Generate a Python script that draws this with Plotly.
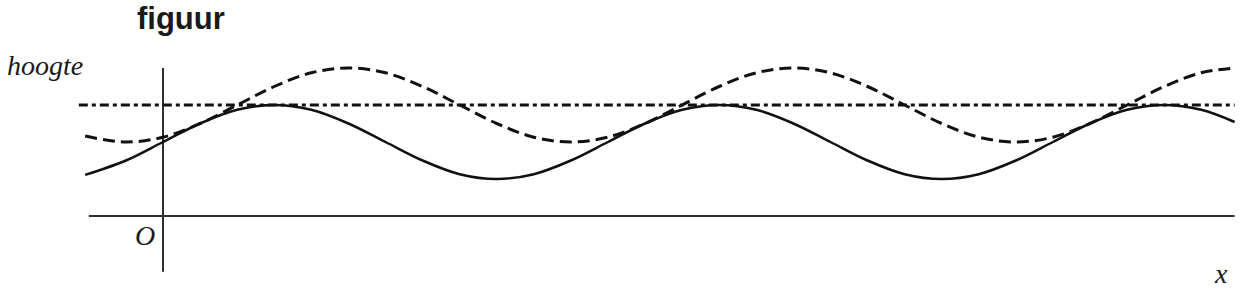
import plotly.graph_objects as go

# Values (x in axis units, height in axis units)
x_pts = [-2.1, -1, 0, 1, 2, 3, 4, 5, 6, 7, 8, 9, 10, 11, 12, 13, 14, 15,
         16, 17, 18, 19, 20, 21, 22, 23, 24, 25, 26, 27, 28, 28.9]
solid_h = [1.11, 1.5, 2.0, 2.5, 2.87, 3.0, 2.87, 2.5, 2.0, 1.5, 1.13, 1.0,
           1.13, 1.5, 2.0, 2.5, 2.87, 3.0, 2.87, 2.5, 2.0, 1.5, 1.13, 1.0,
           1.13, 1.5, 2.0, 2.5, 2.87, 3.0, 2.87, 2.54]
dashed_h = [2.16, 2.0, 2.13, 2.5, 3.0, 3.5, 3.87, 4.0, 3.87, 3.5, 3.0, 2.5,
            2.13, 2.0, 2.13, 2.5, 3.0, 3.5, 3.87, 4.0, 3.87, 3.5, 3.0, 2.5,
            2.13, 2.0, 2.13, 2.5, 3.0, 3.5, 3.87, 4.0]
level_x = [-2.27, 28.9]
level_h = [3.0, 3.0]
xaxis_ext = [-2.0, 28.9]
yaxis_ext = [-1.51, 4.0]

title_text = "figuur"
ylabel_text = "hoogte"
origin_text = "O"
xlabel_text = "x"

W, H = 1248, 294
ux, uy = 37.08, 37.0
ox, oy = 163, 216

ink = "#111111"
axis_ink = "#2e2e2e"

fig = go.Figure()

# axes
fig.add_trace(go.Scatter(x=xaxis_ext, y=[0, 0], mode="lines",
                         line=dict(color=axis_ink, width=2), hoverinfo="skip"))
fig.add_trace(go.Scatter(x=[0, 0], y=yaxis_ext, mode="lines",
                         line=dict(color=axis_ink, width=2), hoverinfo="skip"))

# dash-dot level line
fig.add_trace(go.Scatter(x=level_x, y=level_h, mode="lines",
                         line=dict(color=ink, width=3, dash="9px,4px,4px,4px")))
# dashed curve
fig.add_trace(go.Scatter(x=x_pts, y=dashed_h, mode="lines",
                         line=dict(color=ink, width=3, dash="12px,6px",
                                   shape="spline", smoothing=1.0)))
# solid curve
fig.add_trace(go.Scatter(x=x_pts, y=solid_h, mode="lines",
                         line=dict(color=ink, width=2.5, shape="spline",
                                   smoothing=1.0)))

def px(xp):
    return xp / W

def py(yp):
    return 1 - yp / H

annos = [
    dict(text="<b>" + title_text + "</b>", x=px(136), y=py(18.5), xanchor="left",
         yanchor="middle", font=dict(family="Liberation Sans", size=31, color="#1a1a1a")),
    dict(text="<i>" + ylabel_text + "</i>", x=px(6), y=py(65), xanchor="left",
         yanchor="middle", font=dict(family="Liberation Serif", size=28, color="#1a1a1a")),
    dict(text="<i>" + origin_text + "</i>", x=px(134), y=py(235), xanchor="left",
         yanchor="middle", font=dict(family="Liberation Serif", size=28, color="#1a1a1a")),
    dict(text="<i>" + xlabel_text + "</i>", x=px(1213), y=py(273), xanchor="left",
         yanchor="middle", font=dict(family="Liberation Serif", size=28, color="#1a1a1a")),
]
for a in annos:
    fig.add_annotation(xref="paper", yref="paper", showarrow=False, borderpad=0, **a)

fig.update_layout(
    width=W, height=H,
    margin=dict(l=0, r=0, t=0, b=0),
    paper_bgcolor="white", plot_bgcolor="white",
    showlegend=False,
    xaxis=dict(range=[(0 - ox) / ux, (W - ox) / ux], visible=False, fixedrange=True),
    yaxis=dict(range=[(oy - H) / uy, oy / uy], visible=False, fixedrange=True),
)

fig.write_html("out.html", config={"displayModeBar": False})
